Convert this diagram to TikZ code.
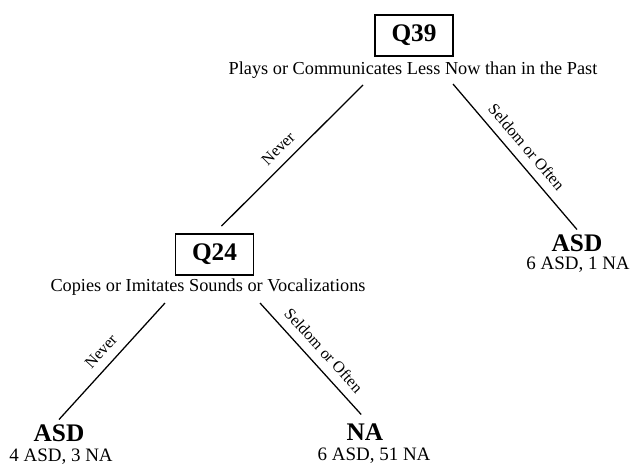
\documentclass[tikz,border=0pt]{standalone}
\usepackage{fontspec}
\setmainfont{Liberation Serif}
\usepackage{tikz}

\begin{document}
\begin{tikzpicture}[x=0.025cm,y=-0.025cm,
  qbox/.style={draw,line width=1.2pt,minimum width=1.95cm,minimum height=1.03cm,
    inner sep=0pt,font=\fontsize{18}{20}\selectfont\bfseries},
  qtext/.style={font=\fontsize{13}{15}\selectfont},
  leaf/.style={font=\fontsize{18}{20}\selectfont\bfseries},
  count/.style={font=\fontsize{13.5}{15}\selectfont},
  edge/.style={line width=0.9pt},
  elabel/.style={font=\fontsize{11.5}{13}\selectfont,sloped,above=3pt,midway}]
\useasboundingbox (0,0) rectangle (633,467);
\node[qbox] (q39) at (414,35.5) {Q39};
\node[qtext] (q39t) at (413,70) {Plays or Communicates Less Now than in the Past};
\node[qbox] (q24) at (214.5,254.5) {Q24};
\node[qtext] (q24t) at (208,287) {Copies or Imitates Sounds or Vocalizations};
\node[leaf] (asdR) at (577,243) {ASD};
\node[count] (cntR) at (578,265) {6 ASD, 1 NA};
\node[leaf] (asdL) at (59,433) {ASD};
\node[count] (cntL) at (61,457) {4 ASD, 3 NA};
\node[leaf] (na) at (365,432) {NA};
\node[count] (cntN) at (374,456) {6 ASD, 51 NA};
\coordinate (q39l) at (363,85);
\coordinate (q39r) at (453,84);
\coordinate (q24l) at (165,303);
\coordinate (q24r) at (260,303);
\draw[edge,shorten >=7pt] (q39l) -- (q24.north) node[elabel] {Never};
\draw[edge] (q39r) -- (asdR.north) node[elabel] {Seldom or Often};
\draw[edge] (q24l) -- (asdL.north) node[elabel] {Never};
\draw[edge,shorten >=4pt] (q24r) -- (na.north) node[elabel] {Seldom or Often};
\end{tikzpicture}
\end{document}
